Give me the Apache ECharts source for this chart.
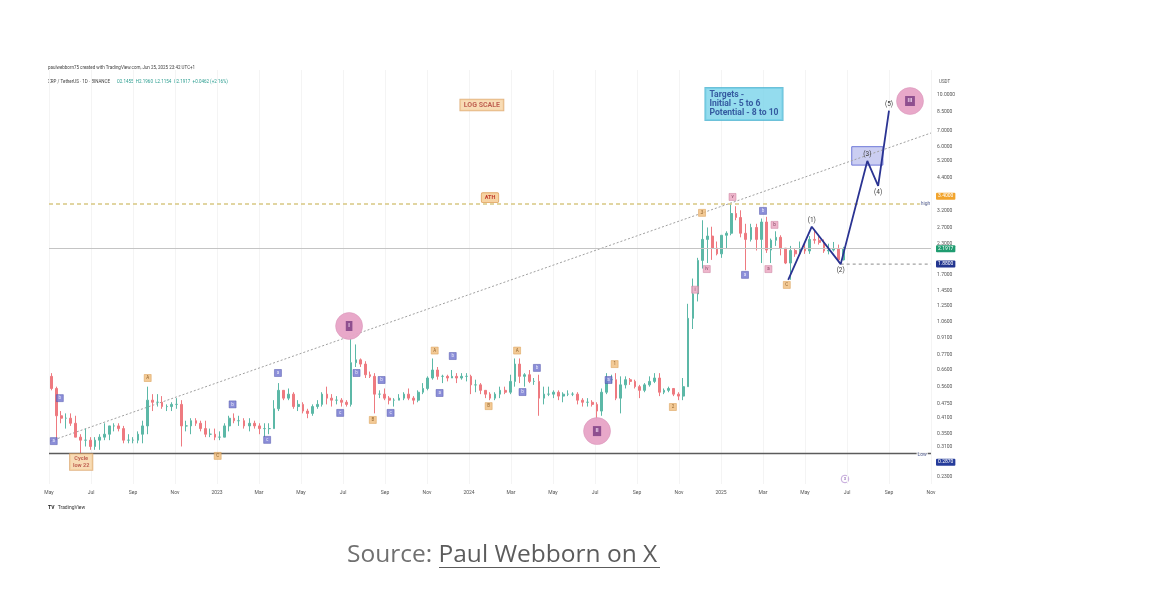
<!DOCTYPE html>
<html><head><meta charset="utf-8">
<script src="https://cdn.jsdelivr.net/npm/echarts@6/dist/echarts.min.js"></script>
<style>html,body{margin:0;padding:0;background:#fff}#c{width:1166px;height:598px}</style>
</head><body><div id="c"></div>
<script>
// ---------- DATA ----------
// Weekly XRP/USDT candles, first week starting 2022-05-02, format [open, close, low, high]
const firstWeekStart = '2022-05-02';
const ohlc2022 = [
[0.62,0.55,0.54,0.64],[0.55,0.42,0.33,0.56],[0.42,0.41,0.39,0.44],[0.41,0.41,0.37,0.43],[0.41,0.39,0.38,0.43],
[0.39,0.34,0.34,0.42],[0.34,0.33,0.287,0.35],[0.33,0.33,0.31,0.37],[0.33,0.31,0.30,0.34],
[0.31,0.33,0.30,0.34],[0.33,0.34,0.30,0.35],[0.34,0.35,0.33,0.39],[0.35,0.38,0.33,0.38],
[0.38,0.38,0.36,0.39],[0.38,0.37,0.36,0.39],[0.37,0.33,0.32,0.38],[0.33,0.33,0.32,0.35],[0.33,0.33,0.32,0.34],
[0.33,0.35,0.32,0.36],[0.35,0.38,0.32,0.40],[0.38,0.49,0.35,0.56],[0.49,0.48,0.44,0.52],
[0.48,0.48,0.46,0.52],[0.48,0.46,0.45,0.51],[0.46,0.46,0.44,0.47],[0.46,0.47,0.44,0.48],[0.47,0.47,0.45,0.50],
[0.47,0.38,0.31,0.49],[0.38,0.38,0.36,0.40],[0.38,0.40,0.35,0.41],[0.40,0.39,0.38,0.41],
[0.39,0.37,0.36,0.40],[0.37,0.35,0.34,0.40],[0.35,0.35,0.34,0.37],[0.35,0.34,0.33,0.37]];
const ohlc2023 = [
[0.34,0.34,0.33,0.36],[0.34,0.38,0.34,0.39],[0.38,0.41,0.36,0.42],[0.41,0.40,0.39,0.43],[0.40,0.40,0.38,0.42],
[0.40,0.38,0.37,0.41],[0.38,0.39,0.36,0.41],[0.39,0.38,0.37,0.40],[0.38,0.37,0.35,0.39],
[0.37,0.37,0.34,0.39],[0.37,0.37,0.35,0.39],[0.37,0.45,0.37,0.49],[0.45,0.54,0.44,0.58],
[0.54,0.50,0.49,0.54],[0.50,0.52,0.49,0.55],[0.52,0.46,0.45,0.53],[0.46,0.47,0.44,0.49],
[0.47,0.44,0.43,0.48],[0.44,0.43,0.41,0.45],[0.43,0.46,0.42,0.47],[0.46,0.47,0.45,0.49],[0.47,0.52,0.46,0.53],
[0.52,0.50,0.47,0.56],[0.50,0.49,0.46,0.52],[0.49,0.49,0.47,0.51],[0.49,0.48,0.46,0.50],
[0.48,0.47,0.46,0.49],[0.47,0.71,0.46,0.90],[0.71,0.73,0.68,0.85],[0.73,0.70,0.68,0.74],[0.70,0.63,0.61,0.72],
[0.63,0.62,0.61,0.65],[0.62,0.52,0.43,0.64],[0.52,0.52,0.50,0.54],[0.52,0.50,0.49,0.55],
[0.50,0.49,0.47,0.51],[0.49,0.49,0.46,0.50],[0.49,0.50,0.49,0.52],[0.50,0.52,0.49,0.53],
[0.52,0.50,0.49,0.55],[0.50,0.49,0.47,0.51],[0.49,0.53,0.48,0.54],[0.53,0.55,0.52,0.58],[0.55,0.61,0.54,0.62],
[0.61,0.66,0.60,0.74],[0.66,0.62,0.60,0.68],[0.62,0.62,0.58,0.63],[0.62,0.61,0.59,0.63],
[0.61,0.62,0.61,0.66],[0.62,0.61,0.58,0.64],[0.61,0.62,0.60,0.64],[0.62,0.62,0.59,0.64]];
const ohlc2024 = [
[0.62,0.57,0.52,0.63],[0.57,0.57,0.53,0.60],[0.57,0.54,0.52,0.58],[0.54,0.52,0.50,0.54],[0.52,0.50,0.49,0.53],
[0.50,0.52,0.49,0.53],[0.52,0.54,0.50,0.56],[0.54,0.53,0.52,0.56],[0.53,0.59,0.52,0.63],
[0.59,0.70,0.56,0.74],[0.70,0.62,0.58,0.74],[0.62,0.63,0.56,0.64],[0.63,0.59,0.58,0.66],
[0.59,0.59,0.57,0.61],[0.59,0.50,0.42,0.63],[0.50,0.52,0.47,0.56],[0.52,0.52,0.51,0.56],[0.52,0.53,0.50,0.54],
[0.53,0.51,0.49,0.54],[0.51,0.52,0.48,0.53],[0.52,0.52,0.51,0.54],[0.52,0.52,0.51,0.53],
[0.52,0.49,0.47,0.53],[0.49,0.48,0.46,0.50],[0.48,0.48,0.46,0.50],[0.48,0.47,0.46,0.49],
[0.47,0.44,0.40,0.48],[0.44,0.53,0.42,0.55],[0.53,0.60,0.52,0.64],[0.60,0.60,0.58,0.63],[0.60,0.50,0.49,0.64],
[0.50,0.57,0.43,0.62],[0.57,0.60,0.55,0.62],[0.60,0.59,0.57,0.61],[0.59,0.56,0.55,0.60],
[0.56,0.54,0.50,0.57],[0.54,0.57,0.53,0.58],[0.57,0.59,0.56,0.62],[0.59,0.61,0.58,0.64],[0.61,0.53,0.51,0.64],
[0.53,0.54,0.52,0.55],[0.54,0.55,0.53,0.56],[0.55,0.52,0.51,0.55],[0.52,0.51,0.49,0.53],
[0.51,0.56,0.49,0.61],[0.56,1.10,0.56,1.27],[1.10,1.40,0.99,1.63],[1.40,1.95,1.30,2.00],
[1.95,2.40,1.80,2.90],[2.40,2.48,1.90,2.70],[2.48,2.20,1.96,2.72],[2.20,2.08,2.05,2.35],[2.08,2.50,2.00,2.50]];
const ohlc2025 = [
[2.50,2.55,2.20,2.60],[2.55,3.10,2.50,3.40],[3.10,2.98,2.90,3.33],[2.98,2.55,2.45,3.20],
[2.55,2.40,1.77,2.80],[2.40,2.70,2.35,2.80],[2.70,2.40,2.15,2.80],[2.40,2.85,1.90,2.95],
[2.85,2.16,2.10,3.00],[2.16,2.38,1.90,2.42],[2.38,2.45,2.25,2.60],[2.45,2.20,2.05,2.50],[2.20,1.90,1.88,2.20],
[1.90,2.15,1.61,2.25],[2.15,2.08,2.02,2.20],[2.08,2.20,2.06,2.35],[2.20,2.14,2.08,2.30],
[2.14,2.40,2.08,2.48],[2.40,2.38,2.30,2.65],[2.38,2.33,2.28,2.48],[2.33,2.14,2.10,2.40],
[2.14,2.16,2.07,2.30],[2.16,2.18,2.13,2.34],[2.18,1.96,1.91,2.28],[1.96,2.19,1.95,2.23]];

const yTickValues = [10,8.5,7,6,5.2,4.4,3.2,2.7,2.3,1.7,1.45,1.25,1.06,0.91,0.77,0.66,0.56,0.475,0.41,0.35,0.31,0.23];
const monthNames = ['Jan','Feb','Mar','Apr','May','Jun','Jul','Aug','Sep','Oct','Nov','Dec'];

const athPrice = 3.40;
const lowPrice = 0.2870;
const lastClose = 2.1917;
const supportPrice = 1.88;

const trendLine = [['2022-05-03',0.327],['2025-11-01',6.87]];
const wavePoints = [['2025-04-07',1.61,''],['2025-05-11',2.72,'(1)'],['2025-06-22',1.88,'(2)'],['2025-07-31',5.21,'(3)'],['2025-08-16',4.07,'(4)'],['2025-09-01',8.56,'(5)']];
const targetZone = {start:'2025-07-08', end:'2025-08-23', low:5.0, high:6.0};

const blueMarks = [['2022-05-17',0.50,'b'],['2022-05-08',0.327,'a'],['2023-01-24',0.47,'b'],['2023-03-13',0.331,'c'],
['2023-03-29',0.641,'a'],['2023-06-27',0.432,'c'],['2023-07-21',0.641,'b'],['2023-08-27',0.598,'b'],['2023-09-09',0.432,'c'],
['2023-12-08',0.758,'b'],['2023-11-19',0.526,'a'],['2024-03-18',0.531,'b'],['2024-04-08',0.674,'b'],['2024-07-21',0.598,'a'],
['2025-03-01',3.18,'b'],['2025-02-05',1.69,'a']];
const orangeMarks = [['2022-09-22',0.61,'A'],['2023-08-14',0.403,'B'],['2023-11-12',0.80,'A'],['2024-01-30',0.462,'B'],
['2024-03-10',0.80,'A'],['2024-07-30',0.70,'1'],['2024-10-23',0.458,'2'],['2024-12-04',3.12,'3'],['2025-04-05',1.53,'C'],['2023-01-02',0.2825,'C']];
const pinkMarks = [['2024-11-24',1.46,'i'],['2025-01-18',3.65,'v'],['2025-03-18',2.77,'b'],['2024-12-11',1.79,'iv'],['2025-03-09',1.79,'a']];
const cycleCircles = [['2023-07-10',1.02,'I'],['2024-07-04',0.361,'II'],['2025-10-01',9.42,'III']];
const logScaleNote = ['2024-01-20',9.06,'LOG SCALE'];
const cycleNote = ['2022-06-17',0.266,'Cycle\nlow 22'];
const targetsNote = ['2024-12-09',9.15,'Targets -\nInitial - 5 to 6\nPotential - 8 to 10'];
const lineTags = [['2025-10-24',athPrice,'high'],['2025-10-19',lowPrice,'Low']];

// ---------- HELPERS ----------
function mpos(s){const p=s.split('-').map(Number);const dim=new Date(Date.UTC(p[0],p[1],0)).getUTCDate();return (p[0]-2022)*12+(p[1]-1)+(p[2]-1)/dim;}
function addDays(s,n){const t=new Date(s+'T00:00:00Z');t.setUTCDate(t.getUTCDate()+n);return t.toISOString().slice(0,10);}
const weekly = [].concat(ohlc2022, ohlc2023, ohlc2024, ohlc2025);
const candleData = weekly.map((v,i)=>[mpos(addDays(firstWeekStart,i*7+3)), v[0], v[1], v[2], v[3]]);
const pt = a => [mpos(a[0]), a[1], a[2]];
const FONT = 'Roboto, "Noto Sans", sans-serif';
const xMin = 4, xMax = 46;

const chart = echarts.init(document.getElementById('c'), null, {renderer:'canvas'});
const boxLabel = (bg, color, extra) => Object.assign({show:true, fontFamily:FONT, fontSize:5, color:color, backgroundColor:bg, padding:[1,2], borderRadius:1}, extra||{});
const hidden = {color:'rgba(0,0,0,0)', width:0};
const noteStyle = {show:true, position:'inside', fontFamily:FONT, fontWeight:'bold', color:'#b2423a',
  backgroundColor:'#f6d3a3', borderColor:'#d9a063', borderWidth:0.8, formatter:p=>p.data[2]};

chart.setOption({
  animation:false,
  backgroundColor:'#fff',
  grid:{left:49, right:235, top:70, bottom:114, containLabel:false, outerBoundsMode:'none'},
  xAxis:{type:'value', min:xMin, max:xMax, interval:2,
    axisLine:{show:false}, axisTick:{show:false},
    splitLine:{show:true, lineStyle:{color:'#f4f4f4', width:1}},
    axisLabel:{fontFamily:FONT, fontSize:5, color:'#555', margin:6,
      formatter:v=>{const m=Math.round(v); return m%12===0 ? String(2022+m/12) : monthNames[m%12];}}},
  yAxis:{type:'log', logBase:10, position:'right', min:0.214, max:12.8,
    name:'USDT', nameLocation:'end', nameGap:-14, nameTextStyle:{fontFamily:FONT, fontSize:4.5, color:'#555', align:'left', padding:[0,0,0,8]},
    axisLine:{show:false}, axisTick:{show:false}, splitLine:{show:false},
    axisLabel:{customValues:yTickValues, fontFamily:FONT, fontSize:5, color:'#555', margin:6, formatter:v=>Number(v).toFixed(4)}},
  series:[
    {type:'line', name:'trend', data:trendLine.map(d=>[mpos(d[0]),d[1]]), symbol:'none', silent:true, z:3,
      lineStyle:{color:'#a0a0a0', width:1, type:[2,2]}},
    {type:'candlestick', name:'XRP', data:candleData, barWidth:2.2, z:4,
      itemStyle:{color:'#5cb8a7', color0:'#ee7a80', borderColor:'#5cb8a7', borderColor0:'#ee7a80', borderWidth:1},
      markLine:{symbol:'none', silent:true, data:[
        {yAxis:athPrice, lineStyle:{color:'#d8c883', type:[4,3], width:1.6},
          label:Object.assign(boxLabel('#f6d3a3','#c0392b',{fontSize:5.5, fontWeight:'bold', borderColor:'#e0a564', borderWidth:0.8, padding:[1.5,3]}),{position:'insideMiddleTop', distance:2, formatter:'ATH'})},
        {yAxis:athPrice, lineStyle:hidden,
          label:Object.assign(boxLabel('#f2a42c','#fff'),{position:'end', distance:5, offset:[0,-8], formatter:athPrice.toFixed(4)})},
        {yAxis:lowPrice, lineStyle:{color:'#5c5c5c', type:'solid', width:1.3},
          label:Object.assign(boxLabel('#263c9b','#fff'),{position:'end', distance:5, offset:[0,9], formatter:lowPrice.toFixed(4)})},
        {yAxis:lastClose, lineStyle:{color:'#c4c4c4', type:'solid', width:1},
          label:Object.assign(boxLabel('#1f9c70','#fff'),{position:'end', distance:5, formatter:lastClose.toFixed(4)})}
      ]}},
    {type:'line', name:'support', data:[[mpos(wavePoints[2][0]),supportPrice],[xMax,supportPrice]], symbol:'none', silent:true, z:3,
      lineStyle:{color:'#8c8c8c', width:1, type:[3,3]},
      endLabel:Object.assign(boxLabel('#22358f','#fff'),{distance:5, formatter:supportPrice.toFixed(4)})},
    {type:'line', name:'wave', z:6, showSymbol:true, symbol:'circle', symbolSize:0.1,
      data:wavePoints.map((d,i)=>({value:pt(d), label:{position:(i%2===1)?'top':'bottom'}})),
      itemStyle:{color:'#2a3392'},
      lineStyle:{color:'#2a3392', width:1.8},
      label:{show:true, fontFamily:FONT, fontSize:6.5, color:'#3a3a3a', distance:3, formatter:p=>p.value[2]},
      markArea:{silent:true, itemStyle:{color:'rgba(118,126,222,0.38)', borderColor:'#6f78d8', borderWidth:1},
        data:[[{xAxis:mpos(targetZone.start), yAxis:targetZone.high},{xAxis:mpos(targetZone.end), yAxis:targetZone.low}]]}},
    {type:'scatter', name:'blue', data:blueMarks.map(pt), symbol:'rect', symbolSize:7, z:7,
      itemStyle:{color:'#6f73cf', borderColor:'#4b50a8', borderWidth:0.6},
      label:{show:true, position:'inside', fontFamily:FONT, fontSize:4.5, color:'#fff', formatter:p=>p.data[2]}},
    {type:'scatter', name:'orange', data:orangeMarks.map(pt), symbol:'rect', symbolSize:7, z:7,
      itemStyle:{color:'#f0bd7c', borderColor:'#d6974a', borderWidth:0.6},
      label:{show:true, position:'inside', fontFamily:FONT, fontSize:4.5, color:'#7a4a12', formatter:p=>p.data[2]}},
    {type:'scatter', name:'pink', data:pinkMarks.map(pt), symbol:'rect', symbolSize:7, z:7,
      itemStyle:{color:'#eaa4bf', borderColor:'#c97a9a', borderWidth:0.6},
      label:{show:true, position:'inside', fontFamily:FONT, fontSize:4.5, color:'#6a2a4a', formatter:p=>p.data[2]}},
    {type:'scatter', name:'cycles', data:cycleCircles.map(pt), symbol:'circle', symbolSize:27, z:8,
      itemStyle:{color:'#e7a3c6', opacity:0.95, borderColor:'#d690b6', borderWidth:0.5},
      label:{show:true, position:'inside', fontFamily:FONT, fontSize:5.5, fontWeight:'bold', color:'#f2d6ee',
        backgroundColor:'#8a4a8c', padding:[2,2.5], formatter:p=>p.data[2]}},
    {type:'scatter', name:'logscale', data:[pt(logScaleNote)], symbolSize:0, z:9, silent:true,
      label:Object.assign({}, noteStyle, {fontSize:7, padding:[2,3.5]})},
    {type:'scatter', name:'cycleNote', data:[pt(cycleNote)], symbolSize:0, z:9, silent:true,
      label:Object.assign({}, noteStyle, {fontSize:5.6, lineHeight:6.5, padding:[1.5,3]})},
    {type:'scatter', name:'targets', data:[pt(targetsNote)], symbolSize:0, z:9, silent:true,
      label:{show:true, position:'inside', fontFamily:FONT, fontSize:8.6, fontWeight:'bold', color:'#1d3a8c', align:'left',
        backgroundColor:'#79d3ea', borderColor:'#48b2cf', borderWidth:1, padding:[2.5,4], lineHeight:9, formatter:p=>p.data[2]}},
    {type:'scatter', name:'tags', data:lineTags.map(pt), symbolSize:0, z:9, silent:true,
      label:{show:true, position:'inside', fontFamily:FONT, fontSize:5, color:'#2a3a7a', backgroundColor:'#fff', padding:[0,1], formatter:p=>p.data[2]}}
  ],
  graphic:[
    {type:'text', left:48, top:65, style:{text:'paulwebborn75 created with TradingView.com, Jun 25, 2025 23:42 UTC+1', font:'4.5px '+FONT, fill:'#444'}},
    {type:'text', left:48, top:76, style:{text:'{a|XRP / TetherUS · 1D · BINANCE}  {b|O2.1455  H2.1960  L2.1154  C2.1917  +0.0462 (+2.16%)}',
      rich:{a:{font:'4.5px '+FONT, fill:'#444'}, b:{font:'4.5px '+FONT, fill:'#2a9d8f'}}}},
    {type:'text', left:48, top:502, style:{text:'{l|TV} {t|TradingView}', rich:{l:{font:'bold 5px '+FONT, fill:'#222'}, t:{font:'5px '+FONT, fill:'#333'}}}},
    {type:'circle', shape:{cx:845, cy:479, r:3.8}, style:{fill:'#fff', stroke:'#b48fd0', lineWidth:0.8}},
    {type:'text', x:845, y:479, style:{text:'x', font:'4.5px '+FONT, fill:'#8a60b0', align:'center', verticalAlign:'middle'}},
    {type:'text', x:347, y:555, style:{text:'{s|Source: }{l|Paul Webborn on X}', verticalAlign:'middle',
      rich:{s:{fontFamily:'"Open Sans", sans-serif', fontSize:24.5, fill:'#707070'}, l:{fontFamily:'"Open Sans", sans-serif', fontSize:24.5, fill:'#5c5c5c'}}}},
    {type:'line', shape:{x1:439, y1:567.5, x2:660, y2:567.5}, style:{stroke:'#5c5c5c', lineWidth:1}}
  ]
});
</script></body></html>
